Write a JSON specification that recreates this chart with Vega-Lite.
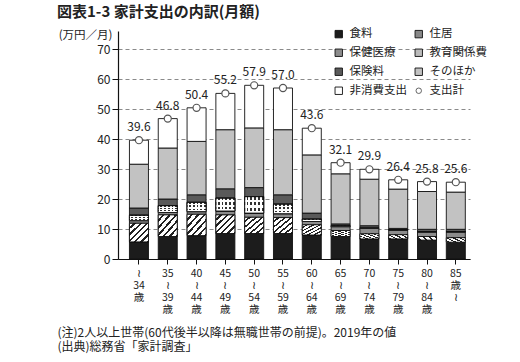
{
  "$schema": "https://vega.github.io/schema/vega-lite/v6.json",
  "width": 352,
  "height": 228,
  "autosize": {"type": "none"},
  "padding": {"left": 118, "top": 31, "right": 50, "bottom": 103},
  "background": "white",
  "title": {
    "text": "図表1-3  家計支出の内訳(月額)",
    "anchor": "start",
    "frame": "group",
    "dx": -61,
    "offset": 8,
    "fontSize": 15,
    "fontWeight": "bold",
    "font": "Noto Sans CJK JP",
    "color": "#222"
  },
  "datasets": {
    "costs": [
      {"age": "〜34歳", "食料": 5.7, "住居": 6.2, "保健医療": 0.9, "教育関係費": 1.8, "保険料": 2.4, "そのほか": 14.6, "非消費支出": 8.0, "支出計": 39.6},
      {"age": "35〜39歳", "食料": 7.5, "住居": 7.2, "保健医療": 0.8, "教育関係費": 2.3, "保険料": 2.2, "そのほか": 17.0, "非消費支出": 9.8, "支出計": 46.8},
      {"age": "40〜44歳", "食料": 7.8, "住居": 7.1, "保健医療": 0.9, "教育関係費": 3.1, "保険料": 2.5, "そのほか": 17.8, "非消費支出": 11.2, "支出計": 50.4},
      {"age": "45〜49歳", "食料": 8.5, "住居": 6.2, "保健医療": 1.3, "教育関係費": 4.3, "保険料": 3.1, "そのほか": 19.7, "非消費支出": 12.1, "支出計": 55.2},
      {"age": "50〜54歳", "食料": 8.5, "住居": 5.4, "保健医療": 1.4, "教育関係費": 5.5, "保険料": 3.0, "そのほか": 19.9, "非消費支出": 14.2, "支出計": 57.9},
      {"age": "55〜59歳", "食料": 8.5, "住居": 5.3, "保健医療": 1.3, "教育関係費": 3.2, "保険料": 3.1, "そのほか": 21.7, "非消費支出": 13.9, "支出計": 57.0},
      {"age": "60〜64歳", "食料": 8.0, "住居": 3.4, "保健医療": 1.1, "教育関係費": 0.8, "保険料": 2.0, "そのほか": 19.4, "非消費支出": 8.9, "支出計": 43.6},
      {"age": "65〜69歳", "食料": 7.5, "住居": 2.0, "保健医療": 1.3, "教育関係費": 0.3, "保険料": 0.6, "そのほか": 16.7, "非消費支出": 3.7, "支出計": 32.1},
      {"age": "70〜74歳", "食料": 6.7, "住居": 1.7, "保健医療": 1.8, "教育関係費": 0.1, "保険料": 0.8, "そのほか": 15.5, "非消費支出": 3.3, "支出計": 29.9},
      {"age": "75〜79歳", "食料": 6.7, "住居": 1.4, "保健医療": 1.6, "教育関係費": 0.1, "保険料": 0.4, "そのほか": 13.1, "非消費支出": 3.1, "支出計": 26.4},
      {"age": "80〜84歳", "食料": 6.3, "住居": 1.2, "保健医療": 1.6, "教育関係費": 0.0, "保険料": 0.8, "そのほか": 12.6, "非消費支出": 3.3, "支出計": 25.8},
      {"age": "85歳〜", "食料": 5.6, "住居": 1.5, "保健医療": 2.0, "教育関係費": 0.0, "保険料": 0.8, "そのほか": 12.4, "非消費支出": 3.3, "支出計": 25.6}
    ],
    "items": [
      {"item": "食料", "n": 1},
      {"item": "住居", "n": 2},
      {"item": "保健医療", "n": 3},
      {"item": "教育関係費", "n": 4},
      {"item": "保険料", "n": 5},
      {"item": "そのほか", "n": 6},
      {"item": "非消費支出", "n": 7}
    ]
  },
  "data": {"name": "costs"},
  "encoding": {
    "x": {
      "field": "age",
      "type": "nominal",
      "sort": null,
      "scale": {"paddingInner": 0.34, "paddingOuter": 0.28, "align": 0.71},
      "axis": {
        "labelAngle": 0,
        "labelExpr": "datum.value == '〜34歳' ? ['≀','34','歳'] : datum.value == '85歳〜' ? ['85','歳','≀'] : [slice(datum.value,0,2),'≀',slice(datum.value,3,5),'歳']",
        "labelFontSize": 10.5,
        "labelLineHeight": 12,
        "labelBaseline": "top",
        "labelPadding": 4,
        "labelColor": "#222",
        "labelFont": "Noto Sans CJK JP",
        "domainColor": "#111",
        "domainWidth": 1.2,
        "tickColor": "#111",
        "tickSize": 5,
        "title": ["(注)2人以上世帯(60代後半以降は無職世帯の前提)。2019年の値", "(出典)総務省「家計調査」"],
        "titleAnchor": "start",
        "titleAlign": "left",
        "titleX": -61,
        "titleY": 73,
        "titleBaseline": "middle",
        "titleLineHeight": 14,
        "titleFontSize": 12,
        "titleFontWeight": "normal",
        "titleColor": "#222",
        "titleFont": "Noto Sans CJK JP"
      }
    }
  },
  "layer": [
    {
      "transform": [
        {"fold": ["食料", "住居", "保健医療", "教育関係費", "保険料", "そのほか", "非消費支出"], "as": ["item", "value"]},
        {"lookup": "item", "from": {"data": {"name": "items"}, "key": "item", "fields": ["n"]}},
        {"stack": "value", "groupby": ["age"], "sort": [{"field": "n", "order": "ascending"}], "as": ["v0", "v1"]}
      ],
      "layer": [
        {
          "mark": {"type": "bar", "stroke": "#111", "strokeWidth": 0.9},
          "encoding": {
            "y": {
              "field": "v1",
              "type": "quantitative",
              "scale": {"domain": [0, 76], "nice": false},
              "axis": {"values": [0, 10, 20, 30, 40, 50, 60, 70], "title": "(万円／月)"}
            },
            "y2": {"field": "v0"},
            "color": {
              "field": "item",
              "type": "nominal",
              "scale": {
                "domain": ["食料", "保健医療", "保険料", "非消費支出", "住居", "教育関係費", "そのほか", "支出計"],
                "range": ["#1c1c1c", "#8c8c8c", "#5a5a5a", "#ffffff", "#888888", "#bbbbbb", "#c2c2c2", "#ffffff"]
              },
              "legend": {
                "title": null,
                "orient": "none",
                "legendX": 215,
                "legendY": -3,
                "columns": 2,
                "columnPadding": 6,
                "rowPadding": 6,
                "padding": 0,
                "symbolType": "square",
                "symbolSize": 55,
                "symbolStrokeColor": "#111",
                "symbolStrokeWidth": 0.9,
                "labelFontSize": 11.5,
                "labelColor": "#222",
                "labelFont": "Noto Sans CJK JP",
                "labelOffset": 5,
                "encode": {
                  "symbols": {
                    "update": {
                      "shape": {"signal": "datum.label === '支出計' ? 'circle' : 'square'"},
                      "size": {"signal": "datum.label === '支出計' ? 30 : 55"},
                      "stroke": {"signal": "datum.label === '支出計' ? '#555' : '#111'"},
                      "fill": {"signal": "datum.label === '住居' ? {gradient: 'linear', x1: 0, y1: 0, x2: 1, y2: 1, stops: [{offset: 0, color: '#fff'}, {offset: 0.18, color: '#fff'}, {offset: 0.18, color: '#222'}, {offset: 0.33, color: '#222'}, {offset: 0.33, color: '#fff'}, {offset: 0.5, color: '#fff'}, {offset: 0.5, color: '#222'}, {offset: 0.66, color: '#222'}, {offset: 0.66, color: '#fff'}, {offset: 0.82, color: '#fff'}, {offset: 0.82, color: '#222'}, {offset: 1, color: '#222'}]} : datum.label === '教育関係費' ? {gradient: 'radial', x1: 0.5, y1: 0.5, r1: 0, x2: 0.5, y2: 0.5, r2: 0.7, stops: [{offset: 0, color: '#333'}, {offset: 0.2, color: '#333'}, {offset: 0.2, color: '#fff'}, {offset: 1, color: '#fff'}]} : scale('color', datum.value)"}
                    }
                  }
                }
              }
            }
          }
        },
        {
          "transform": [{"filter": "datum.item === '住居'"}],
          "mark": {
            "type": "bar",
            "stroke": "#111",
            "strokeWidth": 0.9,
            "fill": {"gradient": "linear", "x1": 0, "y1": 0, "x2": 1, "y2": 1, "stops": [
              {"offset": 0, "color": "#ffffff"}, {"offset": 0.105, "color": "#ffffff"}, {"offset": 0.105, "color": "#222222"}, {"offset": 0.167, "color": "#222222"},
              {"offset": 0.167, "color": "#ffffff"}, {"offset": 0.272, "color": "#ffffff"}, {"offset": 0.272, "color": "#222222"}, {"offset": 0.333, "color": "#222222"},
              {"offset": 0.333, "color": "#ffffff"}, {"offset": 0.438, "color": "#ffffff"}, {"offset": 0.438, "color": "#222222"}, {"offset": 0.5, "color": "#222222"},
              {"offset": 0.5, "color": "#ffffff"}, {"offset": 0.605, "color": "#ffffff"}, {"offset": 0.605, "color": "#222222"}, {"offset": 0.667, "color": "#222222"},
              {"offset": 0.667, "color": "#ffffff"}, {"offset": 0.772, "color": "#ffffff"}, {"offset": 0.772, "color": "#222222"}, {"offset": 0.833, "color": "#222222"},
              {"offset": 0.833, "color": "#ffffff"}, {"offset": 0.938, "color": "#ffffff"}, {"offset": 0.938, "color": "#222222"}, {"offset": 1, "color": "#222222"}
            ]}
          },
          "encoding": {
            "y": {"field": "v1", "type": "quantitative", "axis": {"values": [0, 10, 20, 30, 40, 50, 60, 70], "title": "(万円／月)"}},
            "y2": {"field": "v0"}
          }
        },
        {
          "transform": [{"filter": "datum.item === '教育関係費'"}],
          "mark": {
            "type": "bar",
            "stroke": "#111",
            "strokeWidth": 0.9,
            "fill": {"gradient": "linear", "x1": 0, "y1": 0, "x2": 1, "y2": 0, "stops": [
              {"offset": 0, "color": "#ffffff"}, {"offset": 0.1, "color": "#ffffff"}, {"offset": 0.1, "color": "#333333"}, {"offset": 0.2, "color": "#333333"},
              {"offset": 0.2, "color": "#ffffff"}, {"offset": 0.3, "color": "#ffffff"}, {"offset": 0.3, "color": "#333333"}, {"offset": 0.4, "color": "#333333"},
              {"offset": 0.4, "color": "#ffffff"}, {"offset": 0.5, "color": "#ffffff"}, {"offset": 0.5, "color": "#333333"}, {"offset": 0.6, "color": "#333333"},
              {"offset": 0.6, "color": "#ffffff"}, {"offset": 0.7, "color": "#ffffff"}, {"offset": 0.7, "color": "#333333"}, {"offset": 0.8, "color": "#333333"},
              {"offset": 0.8, "color": "#ffffff"}, {"offset": 0.9, "color": "#ffffff"}, {"offset": 0.9, "color": "#333333"}, {"offset": 1, "color": "#333333"}
            ]}
          },
          "encoding": {
            "y": {"field": "v1", "type": "quantitative", "axis": {"values": [0, 10, 20, 30, 40, 50, 60, 70], "title": "(万円／月)"}},
            "y2": {"field": "v0"}
          }
        },
        {
          "transform": [{"filter": "datum.item === '教育関係費'"}],
          "mark": {
            "type": "bar",
            "stroke": "#111",
            "strokeWidth": 0.9,
            "fill": {"gradient": "linear", "x1": 0, "y1": 0, "x2": 0, "y2": 1, "stops": [
              {"offset": 0, "color": "rgba(255,255,255,0)"}, {"offset": 0.18, "color": "rgba(255,255,255,0)"}, {"offset": 0.18, "color": "#ffffff"}, {"offset": 0.333, "color": "#ffffff"},
              {"offset": 0.333, "color": "rgba(255,255,255,0)"}, {"offset": 0.513, "color": "rgba(255,255,255,0)"}, {"offset": 0.513, "color": "#ffffff"}, {"offset": 0.667, "color": "#ffffff"},
              {"offset": 0.667, "color": "rgba(255,255,255,0)"}, {"offset": 0.847, "color": "rgba(255,255,255,0)"}, {"offset": 0.847, "color": "#ffffff"}, {"offset": 1, "color": "#ffffff"}
            ]}
          },
          "encoding": {
            "y": {"field": "v1", "type": "quantitative", "axis": {"values": [0, 10, 20, 30, 40, 50, 60, 70], "title": "(万円／月)"}},
            "y2": {"field": "v0"}
          }
        }
      ]
    },
    {
      "mark": {"type": "point", "shape": "circle", "filled": true, "fill": "white", "stroke": "#555", "strokeWidth": 1.2, "size": 50, "opacity": 1},
      "encoding": {
        "y": {"field": "支出計", "type": "quantitative", "axis": {"values": [0, 10, 20, 30, 40, 50, 60, 70], "title": "(万円／月)"}}
      }
    },
    {
      "mark": {"type": "text", "dy": -9, "baseline": "alphabetic", "fontSize": 12, "font": "Noto Sans CJK JP", "color": "#222"},
      "encoding": {
        "y": {"field": "支出計", "type": "quantitative", "axis": {"values": [0, 10, 20, 30, 40, 50, 60, 70], "title": "(万円／月)"}},
        "text": {"field": "支出計", "type": "quantitative", "format": ".1f"}
      }
    }
  ],
  "config": {
    "view": {"stroke": null},
    "font": "Noto Sans CJK JP",
    "axisY": {
      "grid": true,
      "gridDash": [4, 3],
      "gridColor": "#8a8a8a",
      "gridWidth": 1,
      "domainColor": "#111",
      "domainWidth": 1.2,
      "tickColor": "#111",
      "tickSize": 6,
      "labelPadding": 2,
      "labelFontSize": 12,
      "labelColor": "#222",
      "labelFont": "Noto Sans CJK JP",
      "titleAngle": 0,
      "titleAlign": "right",
      "titleBaseline": "middle",
      "titleX": -6,
      "titleY": 4,
      "titleFontSize": 11.5,
      "titleFontWeight": "normal",
      "titleColor": "#222",
      "titleFont": "Noto Sans CJK JP"
    }
  }
}
